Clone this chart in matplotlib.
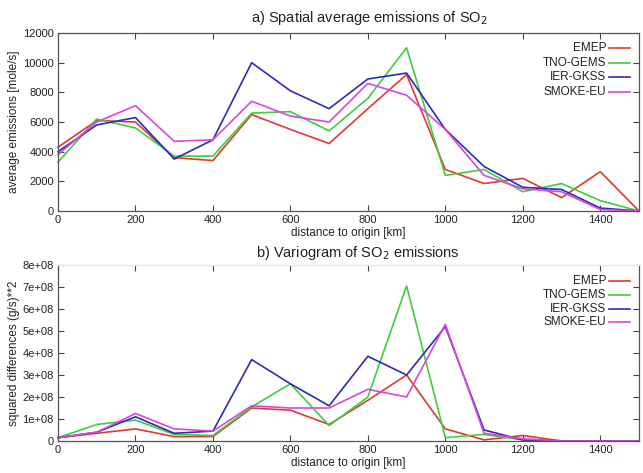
import matplotlib
matplotlib.use("Agg")
import matplotlib.pyplot as plt
import numpy as np

plt.rcParams['font.family'] = ['Liberation Sans', 'DejaVu Sans']

distance = [0, 100, 200, 300, 400, 500, 600, 700, 800, 900, 1000, 1100, 1200, 1300, 1400, 1500]
series_names = ["EMEP", "TNO-GEMS", "IER-GKSS", "SMOKE-EU"]
colors = ["#e0392e", "#3ccf3c", "#2b2bb8", "#dd44dd"]

# a) spatial average emissions [mole/s]
avg_emep = [4300, 6100, 6000, 3600, 3400, 6500, 5500, 4550, 6900, 9200, 2800, 1850, 2200, 900, 2650, 0]
avg_tno = [3300, 6200, 5600, 3700, 3700, 6600, 6700, 5400, 7600, 11000, 2400, 2800, 1300, 1850, 700, 0]
avg_ier = [4000, 5800, 6300, 3500, 4800, 10000, 8100, 6900, 8900, 9300, 5500, 3000, 1600, 1450, 200, 0]
avg_smoke = [3800, 6000, 7100, 4700, 4800, 7400, 6400, 6000, 8600, 7800, 5500, 2400, 1500, 1300, 100, 0]

# b) variogram [(g/s)**2]
var_emep = [0.15e8, 0.35e8, 0.55e8, 0.2e8, 0.2e8, 1.5e8, 1.4e8, 0.75e8, 1.85e8, 3.0e8, 0.55e8, 0.05e8, 0.25e8, 0.0, 0.0, 0.0]
var_tno = [0.15e8, 0.75e8, 0.95e8, 0.3e8, 0.25e8, 1.55e8, 2.6e8, 0.7e8, 2.0e8, 7.05e8, 0.15e8, 0.3e8, 0.05e8, 0.0, 0.0, 0.0]
var_ier = [0.15e8, 0.4e8, 1.1e8, 0.35e8, 0.45e8, 3.7e8, 2.6e8, 1.6e8, 3.85e8, 3.0e8, 5.2e8, 0.5e8, 0.05e8, 0.01e8, 0.0, 0.0]
var_smoke = [0.15e8, 0.4e8, 1.25e8, 0.55e8, 0.45e8, 1.6e8, 1.5e8, 1.5e8, 2.35e8, 2.0e8, 5.3e8, 0.35e8, 0.1e8, 0.0, 0.0, 0.0]

xticks = [0, 200, 400, 600, 800, 1000, 1200, 1400]
yticks_a = [0, 2000, 4000, 6000, 8000, 10000, 12000]
yticks_b = [0, 1e8, 2e8, 3e8, 4e8, 5e8, 6e8, 7e8, 8e8]
yticklabels_b = ["0", "1e+08", "2e+08", "3e+08", "4e+08", "5e+08", "6e+08", "7e+08", "8e+08"]

W, H = 643, 473
fig = plt.figure(figsize=(W / 100, H / 100), dpi=100)
txtc = "#222222"

def make_ax(top_px, bot_px):
    ax = fig.add_axes([58 / W, 1 - bot_px / H, (639 - 58) / W, (bot_px - top_px) / H])
    return ax

axA = make_ax(33, 211)
axB = make_ax(265, 441)

def style(ax, ylim, yticks, ylabels=None):
    ax.set_xlim(0, 1500)
    ax.set_ylim(*ylim)
    ax.set_xticks(xticks)
    ax.set_yticks(yticks)
    if ylabels is not None:
        ax.set_yticklabels(ylabels)
    ax.tick_params(direction='in', length=4, width=0.8, top=True, right=True,
                   labelsize=8, colors="#444444", labelcolor=txtc, pad=3)
    for s in ax.spines.values():
        s.set_color("#555555")
        s.set_linewidth(0.9)

A = [avg_emep, avg_tno, avg_ier, avg_smoke]
B = [var_emep, var_tno, var_ier, var_smoke]
for vals, c in zip(A, colors):
    axA.plot(distance, vals, color=c, lw=1.2, clip_on=False)
for vals, c in zip(B, colors):
    axB.plot(distance, vals, color=c, lw=1.2, clip_on=False)

style(axA, (0, 12000), yticks_a)
style(axB, (0, 8e8), yticks_b, yticklabels_b)
axB.spines['top'].set_color("#e6e6e6")

axA.set_xlabel("distance to origin [km]", fontsize=8.5, color=txtc, labelpad=1)
axB.set_xlabel("distance to origin [km]", fontsize=8.5, color=txtc, labelpad=1)
axA.set_ylabel("average emissions [mole/s]", fontsize=8.5, color=txtc, labelpad=2)
axB.set_ylabel("squared differences (g/s)**2", fontsize=8.5, color=txtc, labelpad=2)

fig.text(369 / W, 1 - 18 / H, "a) Spatial average emissions of SO$_2$", ha='center', va='center',
         fontsize=10.5, color=txtc)
fig.text(358 / W, 1 - 253 / H, "b) Variogram of SO$_2$ emissions", ha='center', va='center',
         fontsize=10.5, color=txtc)

def legend(ax, top_px, bot_px, ys):
    h = bot_px - top_px
    for name, c, y in zip(series_names, colors, ys):
        yf = (bot_px - y) / h
        ax.text((606 - 58) / 581, yf, name, transform=ax.transAxes, ha='right', va='center',
                fontsize=8.5, color=txtc)
        ax.plot([(609 - 58) / 581, (630 - 58) / 581], [yf, yf], transform=ax.transAxes,
                color=c, lw=1.2)

legend(axA, 33, 211, [48, 63, 77, 92])
legend(axB, 265, 441, [281, 295, 309, 322])

fig.savefig("out.png", dpi=100)
